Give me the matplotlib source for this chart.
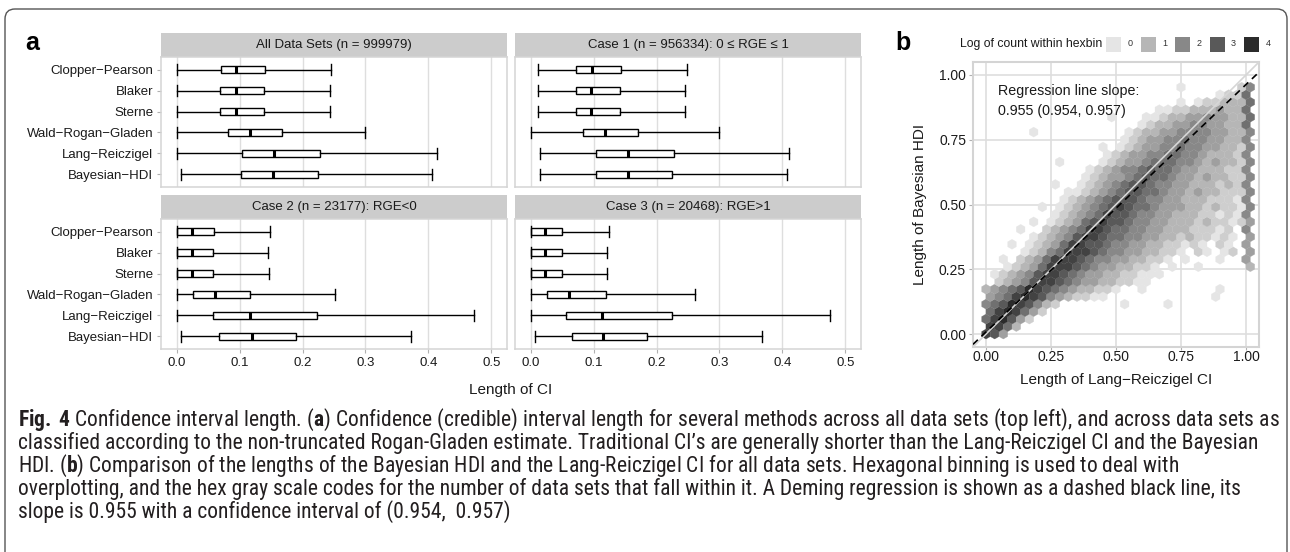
"""Fig. 4 redraw: CI length boxplots per data-set case (a) and hexbin HDI vs Lang-Reiczigel (b)."""
import matplotlib as mpl
mpl.use("Agg")
import matplotlib.pyplot as plt
import numpy as np
from matplotlib import font_manager
from matplotlib.collections import PolyCollection
from matplotlib.colors import LinearSegmentedColormap, Normalize
from matplotlib.patches import FancyBboxPatch, Rectangle
from matplotlib.transforms import IdentityTransform

W, H = 1290, 552

# ---- panel a: five-number summaries of CI length ----
methods = ["Clopper−Pearson", "Blaker", "Sterne", "Wald−Rogan−Gladen",
           "Lang−Reiczigel", "Bayesian−HDI"]
facet_titles = ["All Data Sets (n = 999979)",
                "Case 1 (n = 956334): 0 ≤ RGE ≤ 1",
                "Case 2 (n = 23177): RGE<0",
                "Case 3 (n = 20468): RGE>1"]

all_lo = [0.000, 0.000, 0.000, 0.000, 0.000, 0.007]
all_q1 = [0.070, 0.069, 0.069, 0.081, 0.103, 0.102]
all_med = [0.095, 0.094, 0.094, 0.117, 0.154, 0.153]
all_q3 = [0.141, 0.139, 0.139, 0.168, 0.227, 0.224]
all_hi = [0.246, 0.243, 0.243, 0.300, 0.413, 0.406]

c1_lo = [0.011, 0.011, 0.011, 0.000, 0.015, 0.015]
c1_q1 = [0.072, 0.072, 0.072, 0.083, 0.104, 0.103]
c1_med = [0.097, 0.096, 0.096, 0.118, 0.155, 0.154]
c1_q3 = [0.143, 0.142, 0.142, 0.170, 0.227, 0.225]
c1_hi = [0.248, 0.246, 0.245, 0.300, 0.411, 0.407]

c2_lo = [0.000, 0.000, 0.000, 0.000, 0.000, 0.007]
c2_q1 = [0.000, 0.000, 0.000, 0.026, 0.057, 0.067]
c2_med = [0.025, 0.025, 0.025, 0.061, 0.116, 0.120]
c2_q3 = [0.060, 0.058, 0.058, 0.117, 0.223, 0.189]
c2_hi = [0.148, 0.145, 0.146, 0.252, 0.472, 0.372]

c3_lo = [0.000, 0.000, 0.000, 0.000, 0.000, 0.007]
c3_q1 = [0.000, 0.000, 0.000, 0.026, 0.056, 0.065]
c3_med = [0.023, 0.023, 0.023, 0.061, 0.113, 0.115]
c3_q3 = [0.050, 0.049, 0.049, 0.120, 0.224, 0.185]
c3_hi = [0.124, 0.121, 0.122, 0.261, 0.475, 0.367]

a_ticks = [0.0, 0.1, 0.2, 0.3, 0.4, 0.5]

# ---- panel b: hexbin levels, read by eye ----
# one string per hex row (bottom -> top), one char per hex column (x = 0 .. 0.97)
# digit = 2 * log10(count), "." = empty hex
hex_step = 1 / 30
hex_rows = [
    "763",
    "7752",
    "578631",
    "5787531",
    "456876421.......0....0",
    "34578764321100............0",
    "2345687654322110..0........0",
    ".123467765433221100",
    ".01234677654332211000",
    "..012357776543322110.0..0",
    "..0.123577765443322110.0...0",
    "....0124577765443322110.10.01",
    "...0.012357766544332211010.10.",
    ".....012346776554433221211010.",
    "....0..1234577655443322211101.",
    ".....0.01235676654433222121101",
    "........0123457665443322211010",
    "......0.0123456765543332212110",
    ".........012345666544332221110",
    ".........001234566554332322111",
    "........0..0123456654433222121",
    "...........0123345655433232211",
    "............012344565543322211",
    "........0....01233455544323221",
    "..............0123344554432221",
    ".............0.012334454433221",
    "................01233445443322",
    ".....0..........01223344443322",
    "..................012233443322",
    "..............0...001223343322",
    "....................0011222322",
    "......................0.011222",
    "...........................011",
    "......................0......1",
]
# the pile-up of Lang-Reiczigel lengths at 1.0 (same rows as above)
hex_edge_col = ".........2333343444444444444555554"
legend_levels = [0, 1, 2, 3, 4]
b_ticks = [0.0, 0.25, 0.5, 0.75, 1.0]
deming_slope = 0.955
deming_intercept = 0.008

caption_lines = [
    r"$\mathbf{Fig.\,4}$ Confidence interval length. ($\mathbf{a}$) Confidence (credible) interval length for several methods across all data sets (top left), and across data sets as",
    "classified according to the non-truncated Rogan-Gladen estimate. Traditional CI’s are generally shorter than the Lang-Reiczigel CI and the Bayesian",
    r"HDI. ($\mathbf{b}$) Comparison of the lengths of the Bayesian HDI and the Lang-Reiczigel CI for all data sets. Hexagonal binning is used to deal with",
    "overplotting, and the hex gray scale codes for the number of data sets that fall within it. A Deming regression is shown as a dashed black line, its",
    "slope is 0.955 with a confidence interval of (0.954,  0.957)",
]

TXT = "#1a1a1a"
GRID = "#dedede"
BORDER = "#d4d4d4"
TICK = "#b0b0b0"


def px_rect(x0, y0, x1, y1):
    # pixel box (from top-left) -> add_axes rect
    return [x0 / W, 1 - y1 / H, (x1 - x0) / W, (y1 - y0) / H]


def fx(x):
    return x / W


def fy(y):
    return 1 - y / H


names = {f.name for f in font_manager.fontManager.ttflist}
cap_font = next((n for n in ["Liberation Sans Narrow", "Roboto Condensed"] if n in names),
                "Liberation Sans")

plt.rcParams["font.family"] = ["Liberation Sans", "DejaVu Sans"]
plt.rcParams["mathtext.fontset"] = "custom"
plt.rcParams["mathtext.rm"] = cap_font
plt.rcParams["mathtext.bf"] = cap_font + ":bold"

fig = plt.figure(figsize=(W / 100, H / 100), dpi=100, facecolor="white")

# ---------------- panel a ----------------
facet_boxes = [(161, 57, 507, 187), (515, 57, 861, 187),
               (161, 219, 507, 349), (515, 219, 861, 349)]
facet_data = [(all_lo, all_q1, all_med, all_q3, all_hi),
              (c1_lo, c1_q1, c1_med, c1_q3, c1_hi),
              (c2_lo, c2_q1, c2_med, c2_q3, c2_hi),
              (c3_lo, c3_q1, c3_med, c3_q3, c3_hi)]
ypos = np.arange(len(methods), 0, -1)

for k, (box, title, (lo, q1, med, q3, hi)) in enumerate(zip(facet_boxes, facet_titles, facet_data)):
    ax = fig.add_axes(px_rect(*box))
    stats = [dict(whislo=lo[m], q1=q1[m], med=med[m], q3=q3[m], whishi=hi[m], fliers=[])
             for m in range(len(methods))]
    ax.bxp(stats, positions=ypos, widths=0.3, orientation="horizontal", showfliers=False,
           patch_artist=True, capwidths=0.5, manage_ticks=False,
           boxprops=dict(facecolor="white", edgecolor="black", linewidth=1.0),
           medianprops=dict(color="black", linewidth=2.2),
           whiskerprops=dict(color="black", linewidth=1.0),
           capprops=dict(color="black", linewidth=1.0))
    ax.set_xlim(-0.025, 0.525)
    ax.set_ylim(0.4, len(methods) + 0.6)
    ax.set_xticks(a_ticks)
    ax.set_xticklabels([f"{t:.1f}" for t in a_ticks])
    ax.grid(axis="x", color=GRID, linewidth=1.0)
    ax.set_axisbelow(True)
    for s in ax.spines.values():
        s.set_color(BORDER)
        s.set_linewidth(1.1)

    left = k % 2 == 0
    bottom = k >= 2
    ax.set_yticks(ypos)
    ax.set_yticklabels(methods if left else [])
    ax.tick_params(axis="y", length=3 if left else 0, color=TICK, labelsize=9.5,
                   labelcolor=TXT, pad=2.5)
    ax.tick_params(axis="x", length=3 if bottom else 0, color=TICK, labelsize=9.5,
                   labelcolor=TXT, pad=2.5, labelbottom=bottom)

    strip_h = 24 / (box[3] - box[1])
    ax.add_patch(Rectangle((0, 1), 1, strip_h, transform=ax.transAxes, clip_on=False,
                           facecolor="#cccccc", edgecolor="none"))
    ax.text(0.5, 1 + strip_h / 2, title, transform=ax.transAxes, ha="center", va="center",
            fontsize=9.5, color=TXT)

fig.text(fx(511), fy(390), "Length of CI", ha="center", va="center", fontsize=11, color=TXT)
fig.text(fx(25), fy(50), "a", fontsize=18, fontweight="bold", va="baseline", ha="left")

# ---------------- panel b ----------------
axb = fig.add_axes(px_rect(973, 62, 1259, 347))
axb.set_xlim(-0.05, 1.05)
axb.set_ylim(-0.05, 1.05)
axb.set_xticks(b_ticks)
axb.set_yticks(b_ticks)
axb.set_xticklabels([f"{t:.2f}" for t in b_ticks])
axb.set_yticklabels([f"{t:.2f}" for t in b_ticks])
axb.grid(color=GRID, linewidth=1.2)
axb.set_axisbelow(True)
for s in axb.spines.values():
    s.set_color(BORDER)
    s.set_linewidth(1.5)
axb.tick_params(axis="y", length=3, color=TICK, labelsize=10, labelcolor=TXT, pad=2)
axb.tick_params(axis="x", length=2, color=TICK, labelsize=10, labelcolor=TXT, pad=0.5)

cmap = LinearSegmentedColormap.from_list("hexgrey", ["#e5e5e5", "#2b2b2b"])
norm = Normalize(0, 4)

dy = hex_step * np.sqrt(3) / 2
R = hex_step / np.sqrt(3)
ang = np.deg2rad(90 + 60 * np.arange(6))
hex_shape = np.column_stack([R * np.cos(ang), R * np.sin(ang)])

verts, vals = [], []
n_cols = 30
for j, row in enumerate(hex_rows):
    row = row.ljust(n_cols, ".")[:n_cols] + hex_edge_col[j]
    for i, ch in enumerate(row):
        if ch == ".":
            continue
        cx = (i + 0.5 * (j % 2)) * hex_step
        cy = j * dy
        verts.append(hex_shape + [cx, cy])
        vals.append(int(ch) / 2)

pc = PolyCollection(verts, array=np.array(vals), cmap=cmap, norm=norm,
                    edgecolors="face", linewidths=0.2, zorder=2)
axb.add_collection(pc)

axb.axline((0, 0), slope=1, color="#d6d6d6", linewidth=1.2, zorder=3)
axb.axline((0, deming_intercept), slope=deming_slope, color="black", linewidth=1.2,
           linestyle=(0, (4, 3)), zorder=4)

axb.text(0.047, 0.94, "Regression line slope:", ha="left", va="center", fontsize=10.3, color=TXT, zorder=5)
axb.text(0.047, 0.86, f"{deming_slope:.3f} (0.954, 0.957)", ha="left", va="center",
         fontsize=10.3, color=TXT, zorder=5)

fig.text(fx(1116), fy(380), "Length of Lang−Reiczigel CI", ha="center", va="center",
         fontsize=11, color=TXT)
fig.text(fx(920), fy(204), "Length of Bayesian HDI", ha="center", va="center",
         rotation=90, fontsize=11, color=TXT)
fig.text(fx(895), fy(50), "b", fontsize=18, fontweight="bold", va="baseline", ha="left")

# legend of the grey scale
fig.text(fx(960), fy(44), "Log of count within hexbin", ha="left", va="center",
         fontsize=8.8, color=TXT)
for k, lv in enumerate(legend_levels):
    x0 = 1106 + 34.5 * k
    fig.add_artist(Rectangle((fx(x0), fy(52)), 15 / W, 15 / H, transform=fig.transFigure,
                             facecolor=cmap(norm(lv)), edgecolor="none"))
    fig.text(fx(x0 + 24), fy(44), str(lv), ha="center", va="center", fontsize=6.5, color="#333333")

# ---------------- caption + frame ----------------
cap_base = [426, 449, 472, 495, 518]
cap_texts = [fig.text(fx(18), fy(yb), line, ha="left", va="baseline", fontsize=12,
                      family=cap_font, color="#231f20")
             for line, yb in zip(caption_lines, cap_base)]
fig.canvas.draw()
w1 = cap_texts[0].get_window_extent(fig.canvas.get_renderer()).width
scale = 1262 / w1
for t in cap_texts:
    t.set_fontsize(12 * scale)

fig.add_artist(FancyBboxPatch((5, -40), 1282, 583, boxstyle="round,pad=0,rounding_size=10",
                              transform=IdentityTransform(), fill=False,
                              edgecolor="#555555", linewidth=1.0))

fig.savefig("out.png", dpi=100, facecolor="white")
plt.close(fig)
print("saved out.png | caption font", cap_font, "| scale", round(scale, 3))
